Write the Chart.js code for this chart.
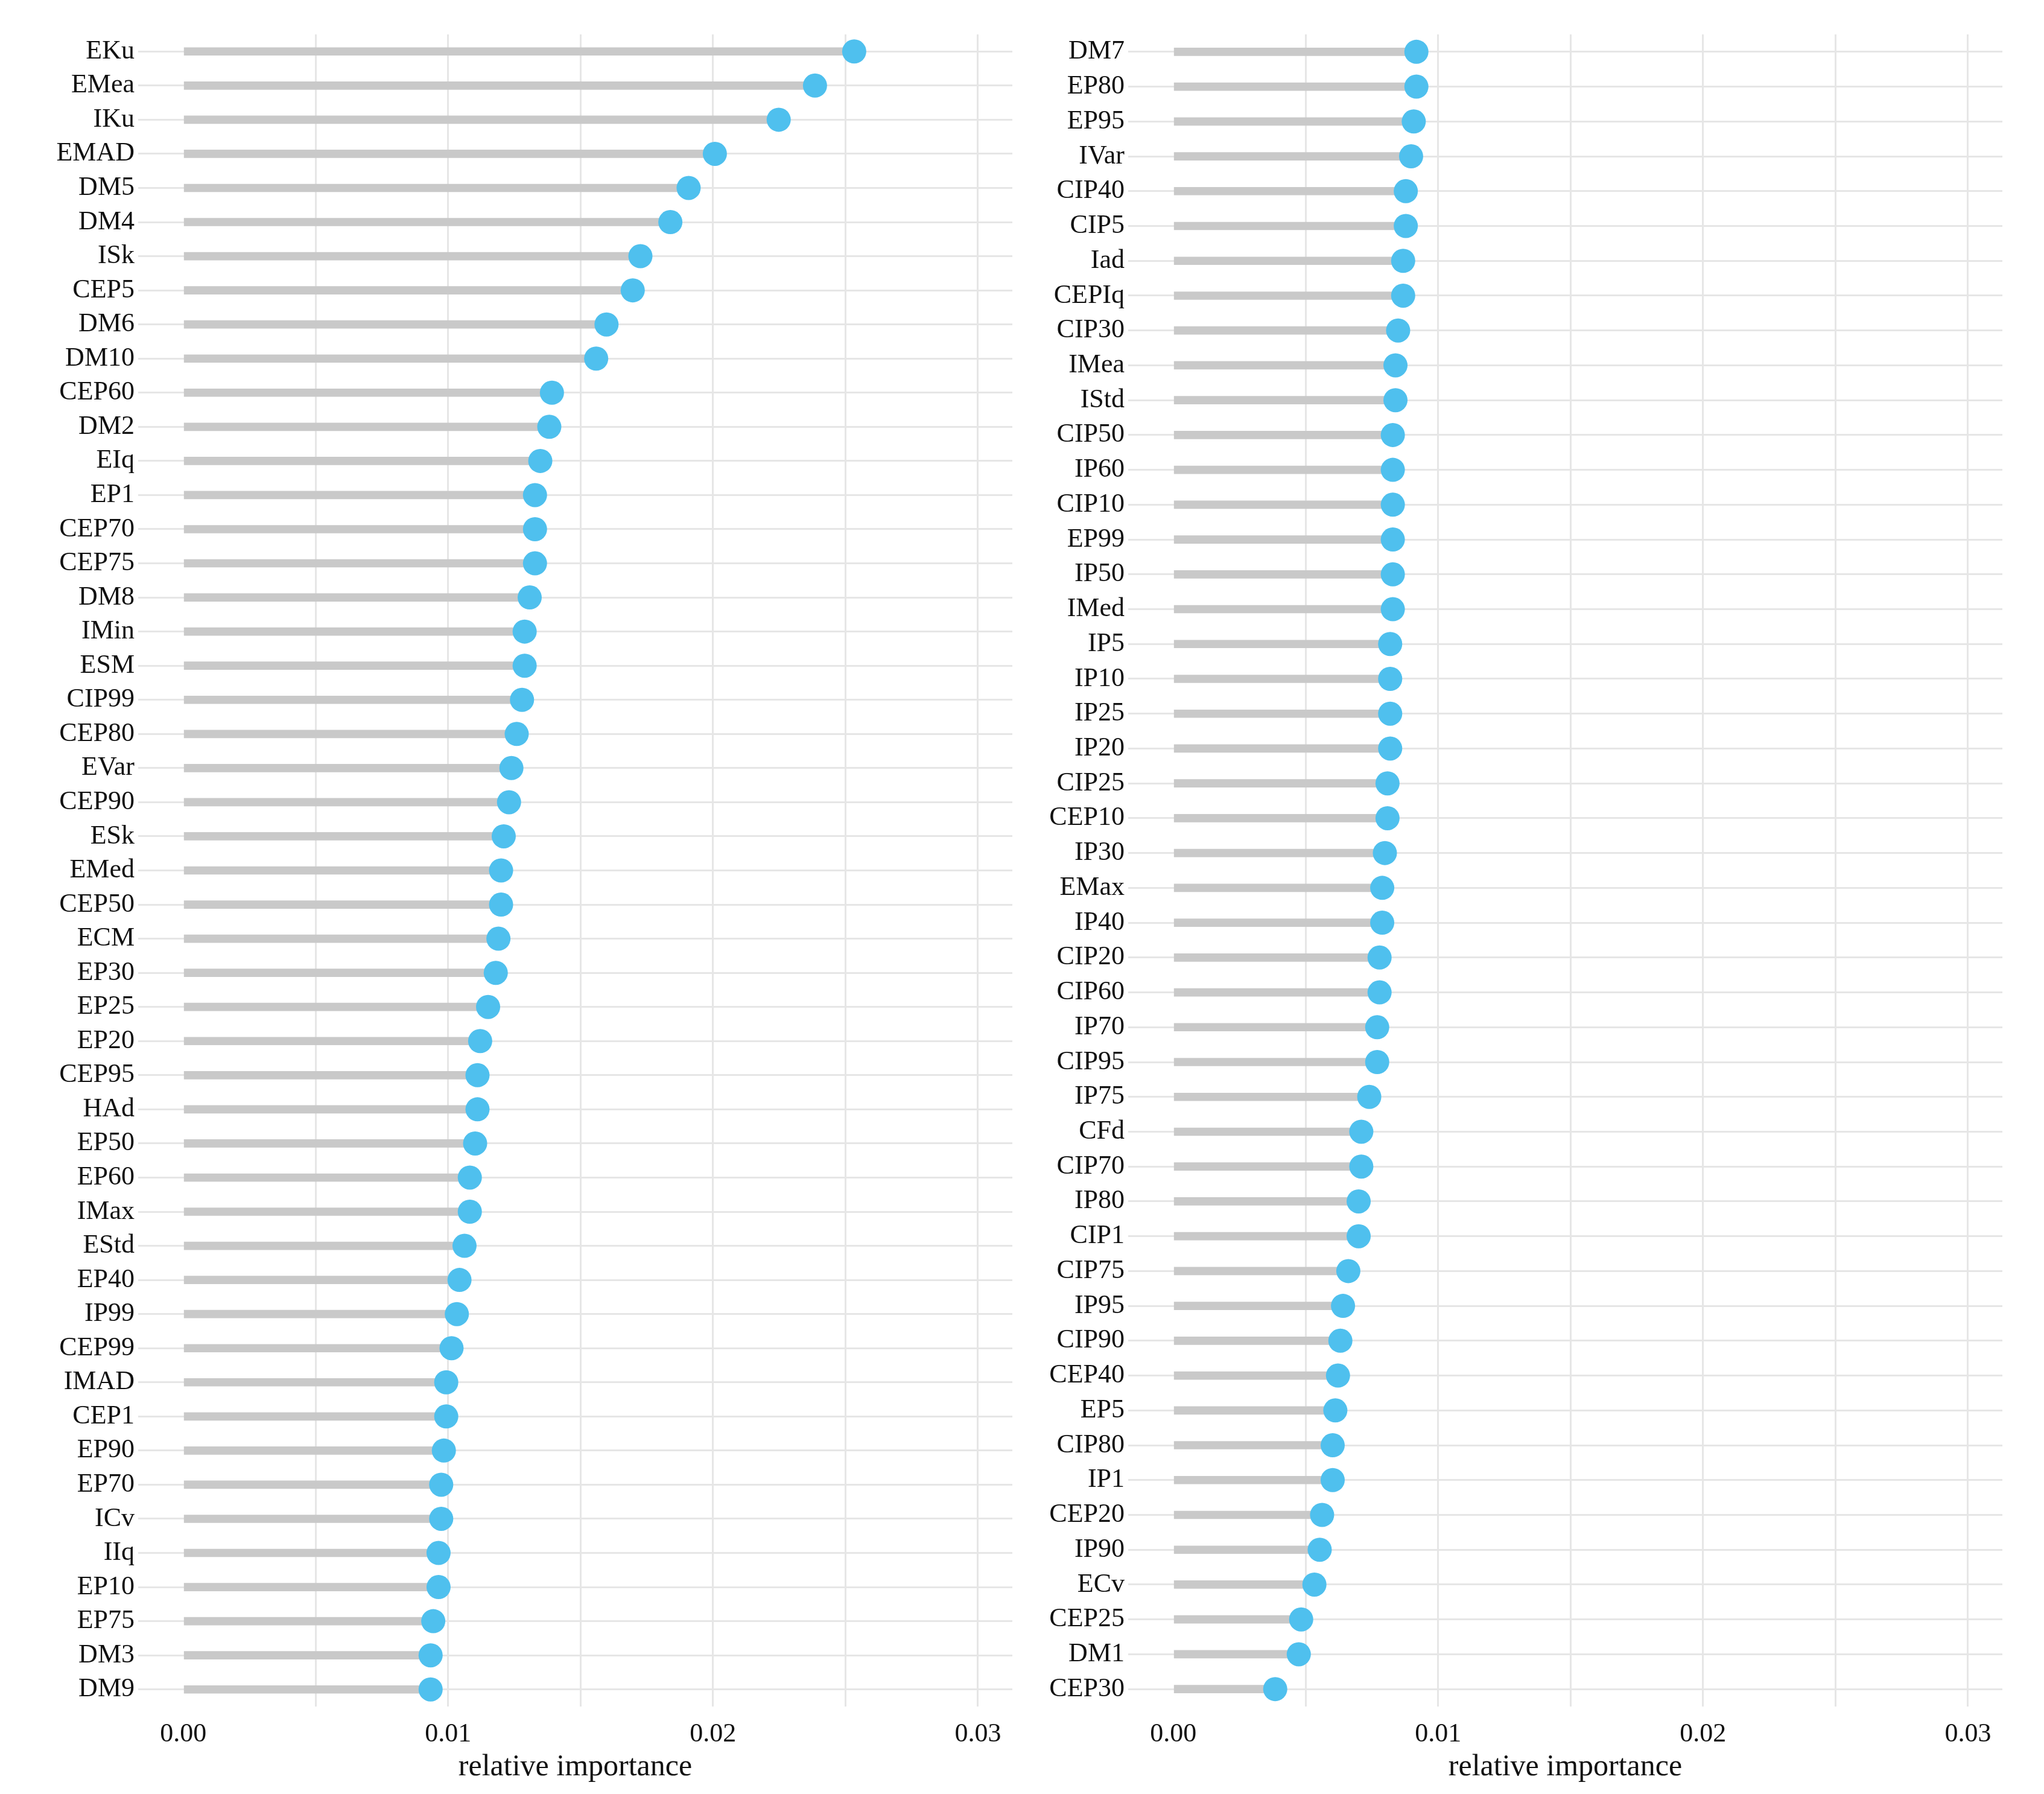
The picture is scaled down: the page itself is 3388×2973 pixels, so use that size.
<!DOCTYPE html>
<html><head><meta charset="utf-8">
<script src="https://cdn.jsdelivr.net/npm/chart.js@4"></script>
<style>html,body{margin:0;padding:0;background:#fff;width:3388px;height:2973px;overflow:hidden}
.c{position:absolute;top:0;width:1698px;height:2973px}</style></head>
<body>
<div class="c" style="left:0"><canvas id="a"></canvas></div>
<div class="c" style="left:1641px"><canvas id="b"></canvas></div>
<script>
const leftLabels=["EKu","EMea","IKu","EMAD","DM5","DM4","ISk","CEP5","DM6","DM10","CEP60","DM2","EIq","EP1","CEP70","CEP75","DM8","IMin","ESM","CIP99","CEP80","EVar","CEP90","ESk","EMed","CEP50","ECM","EP30","EP25","EP20","CEP95","HAd","EP50","EP60","IMax","EStd","EP40","IP99","CEP99","IMAD","CEP1","EP90","EP70","ICv","IIq","EP10","EP75","DM3","DM9"];
const leftValues=[0.02533,0.02385,0.02248,0.02007,0.01908,0.01839,0.01726,0.01697,0.01598,0.01559,0.01392,0.01382,0.01348,0.01328,0.01328,0.01328,0.01308,0.01289,0.01289,0.01279,0.01259,0.01239,0.0123,0.0121,0.0120,0.0120,0.0119,0.0118,0.01151,0.01121,0.01111,0.01111,0.01102,0.01082,0.01082,0.01062,0.01043,0.01033,0.01013,0.00993,0.00993,0.00984,0.00974,0.00974,0.00964,0.00964,0.00944,0.00934,0.00934];
const rightLabels=["DM7","EP80","EP95","IVar","CIP40","CIP5","Iad","CEPIq","CIP30","IMea","IStd","CIP50","IP60","CIP10","EP99","IP50","IMed","IP5","IP10","IP25","IP20","CIP25","CEP10","IP30","EMax","IP40","CIP20","CIP60","IP70","CIP95","IP75","CFd","CIP70","IP80","CIP1","CIP75","IP95","CIP90","CEP40","EP5","CIP80","IP1","CEP20","IP90","ECv","CEP25","DM1","CEP30"];
const rightValues=[0.00918,0.00918,0.00908,0.00898,0.00878,0.00878,0.00868,0.00868,0.00849,0.00839,0.00839,0.00829,0.00829,0.00829,0.00829,0.00829,0.00829,0.00819,0.00819,0.00819,0.00819,0.00809,0.00809,0.00799,0.00789,0.00789,0.00779,0.00779,0.0077,0.0077,0.0074,0.0071,0.0071,0.007,0.007,0.00661,0.00641,0.00631,0.00622,0.00612,0.00602,0.00602,0.00562,0.00553,0.00533,0.00483,0.00474,0.00385];
const gridTicks=[0,0.005,0.01,0.015,0.02,0.025,0.03];
const axisTitle="relative importance";
const FONT="'Liberation Serif','Times New Roman',serif";
function make(id,labels,values){
  new Chart(document.getElementById(id),{
    data:{labels:labels,datasets:[
      {type:'line',data:values,showLine:false,pointRadius:20,pointHoverRadius:20,pointBackgroundColor:'#4fc0ee',pointBorderWidth:0,order:0},
      {type:'bar',data:values.map(v=>[0,v]),backgroundColor:'#c9c9c9',barThickness:13,order:1}
    ]},
    options:{indexAxis:'y',responsive:false,devicePixelRatio:1,animation:false,
      layout:{padding:{top:57,right:0,bottom:0,left:0}},
      plugins:{legend:{display:false},tooltip:{enabled:false}},
      scales:{
        x:{type:'linear',min:-0.0017,max:0.0313,
          afterBuildTicks:s=>{s.ticks=gridTicks.map(v=>({value:v}));},
          afterFit:s=>{s.height=145;},
          border:{display:false},
          grid:{color:c=>(c.tick&&c.tick.value===0)?'rgba(0,0,0,0)':'#e6e6e6',lineWidth:3,tickLength:0},
          ticks:{padding:20,color:'#111',font:{family:FONT,size:44},callback:v=>(Math.abs(v*100-Math.round(v*100))<1e-6)?v.toFixed(2):''},
          title:{display:true,text:axisTitle,color:'#111',font:{family:FONT,size:50},padding:{top:0,bottom:14}}},
        y:{type:'category',offset:true,
          afterFit:s=>{s.width=229;},
          border:{display:false},
          grid:{offset:false,color:'#e6e6e6',lineWidth:3,tickLength:0},
          ticks:{padding:6,color:'#111',font:{family:FONT,size:44},autoSkip:false}}
      }}
  });
}
const ca=document.getElementById('a'),cb=document.getElementById('b');
[ca,cb].forEach(c=>{c.width=1698;c.height=2973;c.style.width='1698px';c.style.height='2973px';});
make('a',leftLabels,leftValues);
make('b',rightLabels,rightValues);
</script></body></html>
